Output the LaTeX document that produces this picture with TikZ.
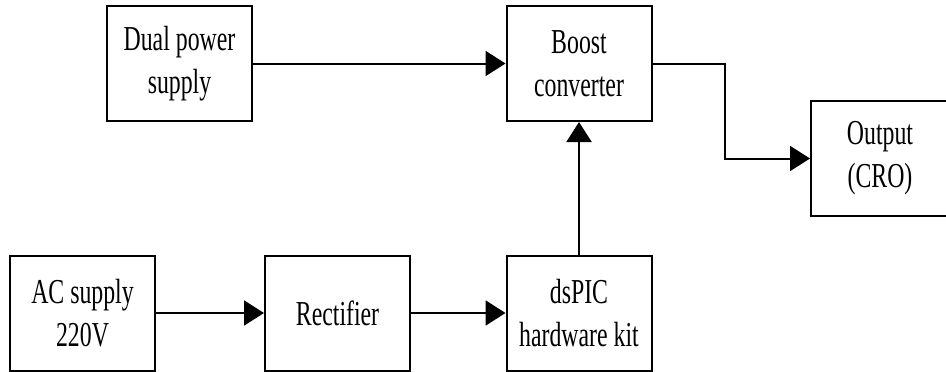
\documentclass[tikz,border=0pt]{standalone}
\usepackage{fontspec}
\setmainfont[FakeStretch=0.68]{Liberation Serif}
\usetikzlibrary{arrows.meta}
\begin{document}
\begin{tikzpicture}[x=1pt,y=-1pt,
  blk/.style={draw,line width=2pt,minimum width=145pt,minimum height=115pt,inner sep=0pt,align=center,
    font=\fontsize{35}{43}\selectfont},
  conn/.style={line width=2pt,-{Triangle[length=20pt,width=25pt]}}]
\useasboundingbox (0,0) rectangle (946,372);
\clip (0,0) rectangle (946,372);
\node[blk] (dual) at (179.5,63.5) {Dual power\\supply};
\node[blk] (boost) at (579,63.5) {Boost\\converter};
\node[blk,minimum width=160pt,text width=140pt] (out) at (891,158.5) {\hspace*{-22pt}Output\\\hspace*{-22pt}(CRO)};
\node[blk] (ac) at (82.5,313) {AC supply\\220V};
\node[blk] (rect) at (337.5,313) {Rectifier};
\node[blk] (dspic) at (579,313) {dsPIC\\hardware kit};
\coordinate (bend1) at (725,63.5);
\coordinate (bend2) at (725,158.5);
\draw[conn] (dual) -- (boost);
\draw[conn] (boost.east) -- (bend1) -- (bend2) -- (out.west);
\draw[conn] (ac) -- (rect);
\draw[conn] (rect) -- (dspic);
\draw[conn] (dspic) -- (boost);
\end{tikzpicture}
\end{document}
